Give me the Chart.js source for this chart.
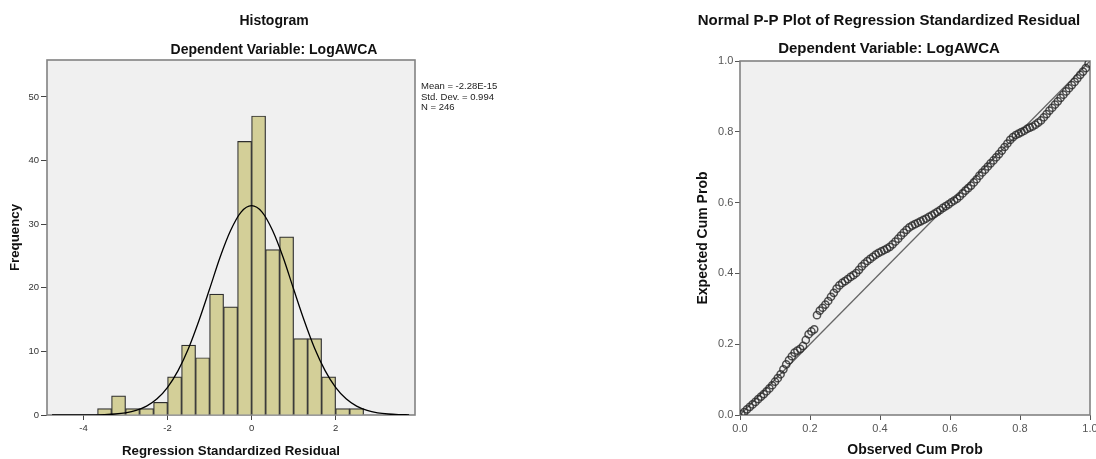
<!DOCTYPE html>
<html>
<head>
<meta charset="utf-8">
<title>Histogram and Normal P-P Plot</title>
<script src="https://cdn.jsdelivr.net/npm/chart.js@4.4.0/dist/chart.umd.min.js"></script>
<style>
    body { margin: 0; background: #fff; width: 1096px; height: 459px; position: relative; overflow: hidden; }
    canvas { position: absolute; top: 0; }
    #histChart { left: 0; }
    #ppChart { left: 682px; }
</style>
</head>
<body>
<canvas id="histChart" width="548" height="459"></canvas>
<canvas id="ppChart" width="414" height="459"></canvas>
<script>
/* Histogram: lower edge of each bin (bins are 1/3 wide) and counts */
const BIN_WIDTH = 1 / 3;
const binLow = [-11/3, -10/3, -3, -8/3, -7/3, -2, -5/3, -4/3, -1, -2/3, -1/3, 0, 1/3, 2/3, 1, 4/3, 5/3, 2, 7/3];
const binCounts = [1, 3, 1, 1, 2, 6, 11, 9, 19, 17, 43, 47, 26, 28, 12, 12, 6, 1, 1];

/* Normal curve */
const curveX = [-4.75, -4.5, -4.25, -4, -3.75, -3.5, -3.25, -3, -2.75, -2.5, -2.25, -2, -1.75, -1.5, -1.25, -1, -0.75, -0.5, -0.25,
    0, 0.25, 0.5, 0.75, 1, 1.25, 1.5, 1.75, 2, 2.25, 2.5, 2.75, 3, 3.25, 3.5, 3.75];
const curveY = [0, 0, 0, 0.01, 0.03, 0.07, 0.16, 0.35, 0.72, 1.39, 2.54, 4.35, 6.98, 10.5, 14.9, 19.8, 24.8, 29.0, 31.9,
    32.9, 31.9, 29.0, 24.8, 19.8, 14.9, 10.5, 6.98, 4.35, 2.54, 1.39, 0.72, 0.35, 0.16, 0.07, 0.03];

const histXTicks = [-4, -2, 0, 2];
const histYTicks = [0, 10, 20, 30, 40, 50];
const statLines = ["Mean = -2.28E-15", "Std. Dev. = 0.994", "N = 246"];

/* P-P plot: observed vs expected cumulative probability */
const ppObserved = [0.004, 0.012, 0.020, 0.028, 0.036, 0.044, 0.052, 0.060, 0.068, 0.076,
    0.084, 0.092, 0.100, 0.108, 0.116, 0.124, 0.132, 0.140, 0.148, 0.156,
    0.164, 0.172, 0.180, 0.188, 0.196, 0.204, 0.212, 0.220, 0.228, 0.236,
    0.244, 0.252, 0.260, 0.268, 0.276, 0.284, 0.292, 0.300, 0.308, 0.316,
    0.324, 0.332, 0.340, 0.348, 0.356, 0.364, 0.372, 0.380, 0.388, 0.396,
    0.404, 0.412, 0.420, 0.428, 0.436, 0.444, 0.452, 0.460, 0.468, 0.476,
    0.484, 0.492, 0.500, 0.508, 0.516, 0.524, 0.532, 0.540, 0.548, 0.556,
    0.564, 0.572, 0.580, 0.588, 0.596, 0.604, 0.612, 0.620, 0.628, 0.636,
    0.644, 0.652, 0.660, 0.668, 0.676, 0.684, 0.692, 0.700, 0.708, 0.716,
    0.724, 0.732, 0.740, 0.748, 0.756, 0.764, 0.772, 0.780, 0.788, 0.796,
    0.804, 0.812, 0.820, 0.828, 0.836, 0.844, 0.852, 0.860, 0.868, 0.876,
    0.884, 0.892, 0.900, 0.908, 0.916, 0.924, 0.932, 0.940, 0.948, 0.956,
    0.964, 0.972, 0.980, 0.988, 0.996];
const ppExpected = [0.002, 0.008, 0.016, 0.023, 0.030, 0.037, 0.045, 0.052, 0.059, 0.067,
    0.075, 0.084, 0.094, 0.104, 0.115, 0.129, 0.143, 0.155, 0.166, 0.176,
    0.182, 0.187, 0.195, 0.212, 0.228, 0.236, 0.242, 0.282, 0.295, 0.303,
    0.312, 0.322, 0.334, 0.345, 0.357, 0.366, 0.373, 0.378, 0.384, 0.390,
    0.395, 0.401, 0.410, 0.420, 0.428, 0.435, 0.441, 0.447, 0.453, 0.458,
    0.462, 0.466, 0.470, 0.475, 0.482, 0.490, 0.498, 0.507, 0.515, 0.523,
    0.530, 0.535, 0.539, 0.543, 0.547, 0.551, 0.555, 0.560, 0.564, 0.569,
    0.574, 0.579, 0.585, 0.590, 0.595, 0.601, 0.606, 0.611, 0.618, 0.626,
    0.634, 0.641, 0.648, 0.657, 0.666, 0.676, 0.685, 0.693, 0.702, 0.711,
    0.719, 0.728, 0.737, 0.747, 0.757, 0.767, 0.777, 0.785, 0.791, 0.795,
    0.799, 0.803, 0.808, 0.812, 0.815, 0.820, 0.826, 0.832, 0.841, 0.850,
    0.860, 0.868, 0.877, 0.886, 0.896, 0.905, 0.914, 0.923, 0.932, 0.941,
    0.951, 0.961, 0.970, 0.980, 0.993];
const refLineX = [0, 1];
const refLineY = [0, 1];
const ppTicks = [0, 0.2, 0.4, 0.6, 0.8, 1.0];

const FONT = "'Liberation Sans', Arial, sans-serif";
Chart.defaults.font.family = FONT;
Chart.defaults.color = "#111";

/* grey plot background + frame, like SPSS output */
const plotFrame = {
    id: "plotFrame",
    beforeDatasetsDraw(chart) {
        const { ctx, chartArea: a } = chart;
        ctx.save();
        ctx.fillStyle = "#f0f0f0";
        ctx.fillRect(a.left, a.top, a.right - a.left, a.bottom - a.top);
        ctx.strokeStyle = "#828282";
        ctx.lineWidth = 1.6;
        ctx.strokeRect(a.left, a.top, a.right - a.left, a.bottom - a.top);
        ctx.restore();
    }
};

const statsText = {
    id: "statsText",
    afterDraw(chart) {
        const ctx = chart.ctx;
        ctx.save();
        ctx.font = "9.5px " + FONT;
        ctx.fillStyle = "#222";
        ctx.textBaseline = "middle";
        statLines.forEach((t, i) => ctx.fillText(t, chart.chartArea.right + 6, 86 + i * 10.9));
        ctx.restore();
    }
};

function setTicks(values) {
    return scale => { scale.ticks = values.map(v => ({ value: v })); };
}

function noPad(scale) {
    scale.paddingLeft = 0;
    scale.paddingRight = 0;
    scale.paddingTop = 0;
    scale.paddingBottom = 0;
}

// histogram
new Chart(document.getElementById("histChart"), {
    type: "bar",
    data: {
        datasets: [{
            type: "line",
            data: curveX.map((x, i) => ({ x: x, y: curveY[i] })),
            borderColor: "#000",
            borderWidth: 1.3,
            pointRadius: 0,
            cubicInterpolationMode: "monotone",
            order: 0
        }, {
            type: "bar",
            data: binLow.map((lo, i) => ({ x: lo + BIN_WIDTH / 2, y: binCounts[i] })),
            backgroundColor: "#d3cf98",
            borderColor: "#2e2e2e",
            borderWidth: 1.2,
            barPercentage: 1,
            categoryPercentage: 1,
            order: 1
        }]
    },
    options: {
        responsive: false,
        animation: false,
        layout: { padding: 0 },
        plugins: {
            legend: { display: false },
            tooltip: { enabled: false },
            title: {
                display: true,
                text: "Histogram",
                font: { size: 14, weight: "bold" },
                color: "#111",
                padding: { top: 12.4, bottom: 6 }
            },
            subtitle: {
                display: true,
                text: "Dependent Variable: LogAWCA",
                font: { size: 14, weight: "bold" },
                color: "#111",
                padding: { top: 6.2, bottom: 1.8 }
            }
        },
        scales: {
            x: {
                type: "linear",
                min: -4.87,
                max: 3.89,
                offset: false,
                afterBuildTicks: setTicks(histXTicks),
                ticks: { font: { size: 9.5 }, color: "#333", padding: 3, maxRotation: 0 },
                grid: { drawOnChartArea: false, tickLength: 5, color: "#444", offset: false },
                border: { display: false },
                title: {
                    display: true,
                    text: "Regression Standardized Residual",
                    font: { size: 13.25, weight: "bold" },
                    color: "#111",
                    padding: { top: 0, bottom: 0 }
                },
                afterFit: s => { s.height = 44; noPad(s); }
            },
            y: {
                min: 0,
                max: 55.8,
                afterBuildTicks: setTicks(histYTicks),
                ticks: { font: { size: 9.5 }, color: "#333", padding: 2 },
                grid: { drawOnChartArea: false, tickLength: 6, color: "#444" },
                border: { display: false },
                title: {
                    display: true,
                    text: "Frequency",
                    font: { size: 13.25, weight: "bold" },
                    color: "#111",
                    padding: { top: 7, bottom: 0 }
                },
                afterFit: s => { s.width = 47; noPad(s); }
            },
            // empty axis that just keeps room for the stats text
            yRight: {
                position: "right",
                ticks: { display: false },
                grid: { display: false },
                border: { display: false },
                afterFit: s => { s.width = 133; noPad(s); }
            }
        }
    },
    plugins: [plotFrame, statsText]
});

// normal P-P plot
new Chart(document.getElementById("ppChart"), {
    type: "scatter",
    data: {
        datasets: [{
            type: "line",
            data: refLineX.map((x, i) => ({ x: x, y: refLineY[i] })),
            borderColor: "#666",
            borderWidth: 1.3,
            pointRadius: 0,
            order: 1
        }, {
            data: ppObserved.map((x, i) => ({ x: x, y: ppExpected[i] })),
            pointStyle: "circle",
            pointRadius: 3.6,
            borderWidth: 1.5,
            borderColor: "rgba(40,40,40,0.8)",
            backgroundColor: "rgba(0,0,0,0)",
            order: 0
        }]
    },
    options: {
        responsive: false,
        animation: false,
        layout: { padding: 0 },
        plugins: {
            legend: { display: false },
            tooltip: { enabled: false },
            title: {
                display: true,
                text: "Normal P-P Plot of Regression Standardized Residual",
                font: { size: 15, weight: "bold" },
                color: "#111",
                padding: { top: 11.5, bottom: 5 }
            },
            subtitle: {
                display: true,
                text: "Dependent Variable: LogAWCA",
                font: { size: 15, weight: "bold" },
                color: "#111",
                padding: { top: 5.2, bottom: 3.3 }
            }
        },
        scales: {
            x: {
                type: "linear",
                min: 0,
                max: 1,
                afterBuildTicks: setTicks(ppTicks),
                ticks: { font: { size: 11 }, color: "#555", padding: 2.4, maxRotation: 0, callback: v => v.toFixed(1) },
                grid: { drawOnChartArea: false, tickLength: 5, color: "#555" },
                border: { display: false },
                title: {
                    display: true,
                    text: "Observed Cum Prob",
                    font: { size: 14, weight: "bold" },
                    color: "#111",
                    padding: { top: 0, bottom: 0 }
                },
                afterFit: s => { s.height = 44; noPad(s); }
            },
            y: {
                min: 0,
                max: 1,
                afterBuildTicks: setTicks(ppTicks),
                ticks: { font: { size: 11 }, color: "#555", padding: 1.7, callback: v => v.toFixed(1) },
                grid: { drawOnChartArea: false, tickLength: 5, color: "#555" },
                border: { display: false },
                title: {
                    display: true,
                    text: "Expected Cum Prob",
                    font: { size: 14, weight: "bold" },
                    color: "#111",
                    padding: { top: 12.6, bottom: 0 }
                },
                afterFit: s => { s.width = 58; noPad(s); }
            },
            yRight: {
                position: "right",
                ticks: { display: false },
                grid: { display: false },
                border: { display: false },
                afterFit: s => { s.width = 6; noPad(s); }
            }
        }
    },
    plugins: [plotFrame]
});
</script>
</body>
</html>
